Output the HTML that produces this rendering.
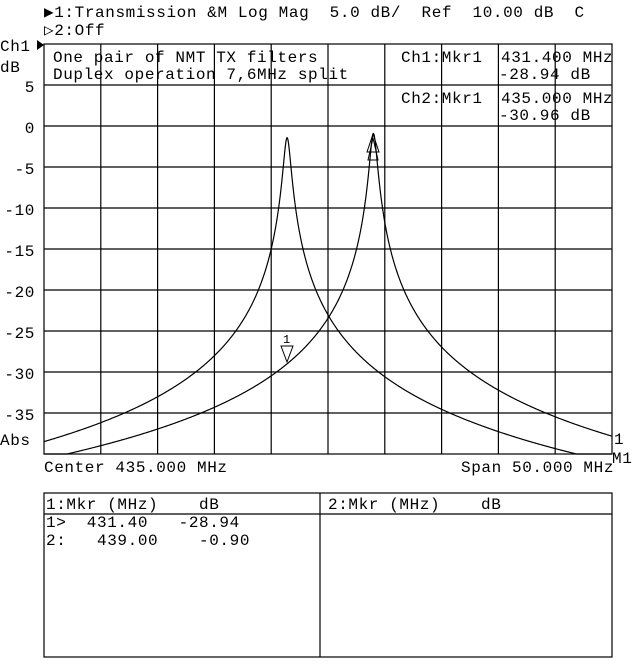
<!DOCTYPE html>
<html><head><meta charset="utf-8"><style>
body{margin:0;background:#fff;width:640px;height:659px;overflow:hidden}
svg text{font-family:"Liberation Mono","DejaVu Sans Mono",monospace;font-size:16px;letter-spacing:0.6px;fill:#000;white-space:pre}
</style></head><body>
<svg id="s" width="640" height="659" xmlns="http://www.w3.org/2000/svg" xml:space="preserve">
<g stroke="#000" stroke-width="1.2" fill="none" id="grid"></g>
<text x="44" y="17">▶1:Transmission &amp;M Log Mag  5.0 dB/  Ref  10.00 dB  C</text>
<text x="44" y="35">▷2:Off</text>
<text x="0" y="51">Ch1</text><polygon points="37,40 44,45 37,50" fill="#000"/>
<text x="0" y="72">dB</text>
<g text-anchor="end">
<text x="35" y="92">5</text><text x="35" y="133">0</text><text x="35" y="174">-5</text><text x="35" y="215">-10</text>
<text x="35" y="256">-15</text><text x="35" y="297">-20</text><text x="35" y="338">-25</text><text x="35" y="379">-30</text><text x="35" y="420">-35</text>
</g>
<text x="0" y="445">Abs</text>
<text x="53" y="62">One pair of NMT TX filters</text>
<text x="53" y="79">Duplex operation 7,6MHz split</text>
<text x="401" y="62">Ch1:Mkr1</text><text x="501" y="62">431.400 MHz</text><text x="499" y="79">-28.94 dB</text>
<text x="401" y="103">Ch2:Mkr1</text><text x="501" y="103">435.000 MHz</text><text x="499" y="120">-30.96 dB</text>
<path id="c1" fill="none" stroke="#000" stroke-width="1.2"/>
<path id="c2" fill="none" stroke="#000" stroke-width="1.2"/>
<polygon points="281,346 293,346 287,362" fill="#fff" stroke="#000"/>
<text x="283" y="343" style="font-size:12px">1</text>
<polygon points="367,152 379,152 373,134" fill="none" stroke="#000"/>
<polygon points="368,160 378,160 373,138" fill="none" stroke="#000"/>
<text x="614" y="444">1</text><text x="612" y="463">M1</text>
<text x="44" y="472">Center 435.000 MHz</text>
<text x="461" y="472">Span 50.000 MHz</text>
<rect x="44" y="493" width="568" height="164" fill="none" stroke="#000" stroke-width="1.2"/>
<line x1="320" y1="493" x2="320" y2="657" stroke="#000" stroke-width="1.2"/>
<line x1="44" y1="514" x2="612" y2="514" stroke="#000" stroke-width="1.2"/>
<text x="46" y="509">1:Mkr (MHz)    dB</text>
<text x="328" y="509">2:Mkr (MHz)    dB</text>
<text x="46" y="527">1&gt;  431.40   -28.94</text>
<text x="46" y="545">2:   439.00    -0.90</text>
</svg>
<script>
var g=document.getElementById('grid'),h='';
h+='<rect x="44" y="44" width="568" height="410"/>';
for(var i=1;i<10;i++){var x=44+56.8*i;h+='<line x1="'+x+'" y1="44" x2="'+x+'" y2="454"/>';}
for(var j=1;j<10;j++){var y=44+41*j;h+='<line x1="44" y1="'+y+'" x2="612" y2="'+y+'"/>';}
g.innerHTML=h;
function curve(f0,pk){var d='';for(var x=44;x<=612;x+=0.5){var f=435+(x-328)/11.36;var D=f-f0;var db=pk-10*Math.log10(1+Math.pow(D/0.3,2));var y=127-db*8.2;if(y>454)y=454;d+=(x==44?'M':'L')+x+','+y.toFixed(1);}return d;}
document.getElementById('c1').setAttribute('d',curve(431.4,-1.3));
document.getElementById('c2').setAttribute('d',curve(439.0,-0.8));
</script>
</body></html>
